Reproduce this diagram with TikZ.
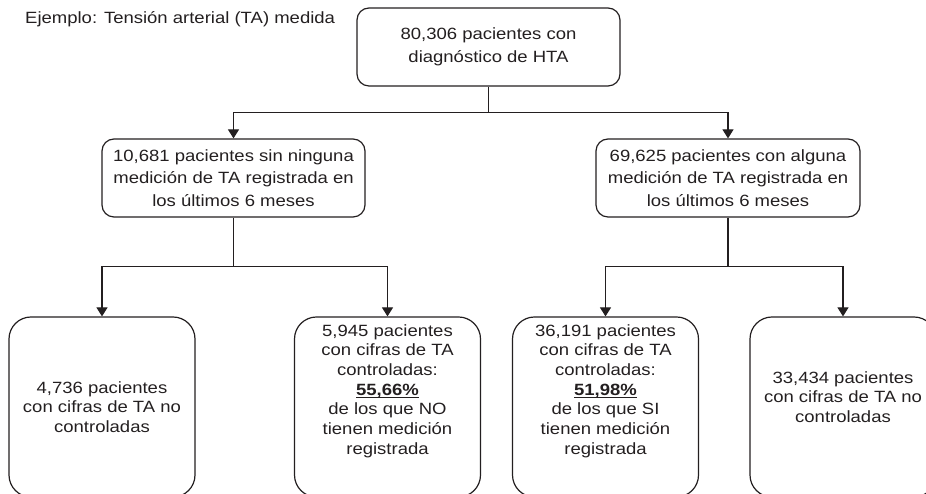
\documentclass[tikz,border=0pt]{standalone}
\usepackage{fontspec}
\setmainfont{Liberation Sans}[FakeStretch=1.135]
\usetikzlibrary{arrows.meta}
\definecolor{ink}{RGB}{35,31,32}
\newcommand{\myul}[1]{\setbox0\hbox{#1}\rlap{\rule[-2.6pt]{\wd0}{1.3pt}}\box0}
\tikzset{
  ln/.style={draw=ink, line width=1.2pt},
  arr/.style={ln, -{Triangle[length=9pt,width=11pt]}},
  midbox/.style={draw=ink, line width=1.2pt, rounded corners=12pt, minimum width=263pt, minimum height=78pt, align=center, inner sep=0pt, text=ink, font=\fontsize{16.3}{22.8}\selectfont},
  botbox/.style={draw=ink, line width=1.2pt, rounded corners=22pt, minimum width=186pt, minimum height=180pt, inner sep=0pt},
  bottxt/.style={align=center, inner sep=0pt, text=ink, font=\fontsize{16.3}{19.7}\selectfont}
}
\begin{document}
\begin{tikzpicture}[x=1pt,y=1pt]
\useasboundingbox (0,0) rectangle (926,494);
\clip (0,0) rectangle (926,494);
\node[anchor=base west, inner sep=0pt, text=ink, font=\fontsize{16.3}{20}\selectfont] (title) at (25,470) {Ejemplo: Tensión arterial (TA) medida};
\node[midbox] (top) at (488.5,447) {80,306 pacientes con\\diagnóstico de HTA};
\node[midbox] (ml) at (233.5,316) {10,681 pacientes sin ninguna\\medición de TA registrada en\\los últimos 6 meses};
\node[midbox, minimum width=264pt] (mr) at (728,316) {69,625 pacientes con alguna\\medición de TA registrada en\\los últimos 6 meses};
\node[botbox] (b1) at (102,87) {};
\node[botbox] (b2) at (387.5,87) {};
\node[botbox] (b3) at (605.5,87) {};
\node[botbox] (b4) at (843,87) {};
\node[bottxt] (t1) at (102,87) {4,736 pacientes\\con cifras de TA no\\controladas};
\node[bottxt] (t2) at (387.5,103) {5,945 pacientes\\con cifras de TA\\controladas:\\\myul{\textbf{55,66\%}}\\de los que NO\\tienen medición\\registrada};
\node[bottxt] (t3) at (605.5,103) {36,191 pacientes\\con cifras de TA\\controladas:\\\myul{\textbf{51,98\%}}\\de los que SI\\tienen medición\\registrada};
\node[bottxt] (t4) at (843,97) {33,434 pacientes\\con cifras de TA no\\controladas};
\draw[ln] (top.south) -- ++(0,-26) coordinate (j0);
\draw[arr] (j0) -| (ml.north);
\draw[arr] (j0) -| (mr.north);
\draw[ln] (ml.south) -- ++(0,-49) coordinate (j1);
\draw[arr] (j1) -| (b1.north);
\draw[arr] (j1) -| (b2.north);
\draw[ln] (mr.south) -- ++(0,-49) coordinate (j2);
\draw[arr] (j2) -| (b3.north);
\draw[arr] (j2) -| (b4.north);
\end{tikzpicture}
\end{document}
